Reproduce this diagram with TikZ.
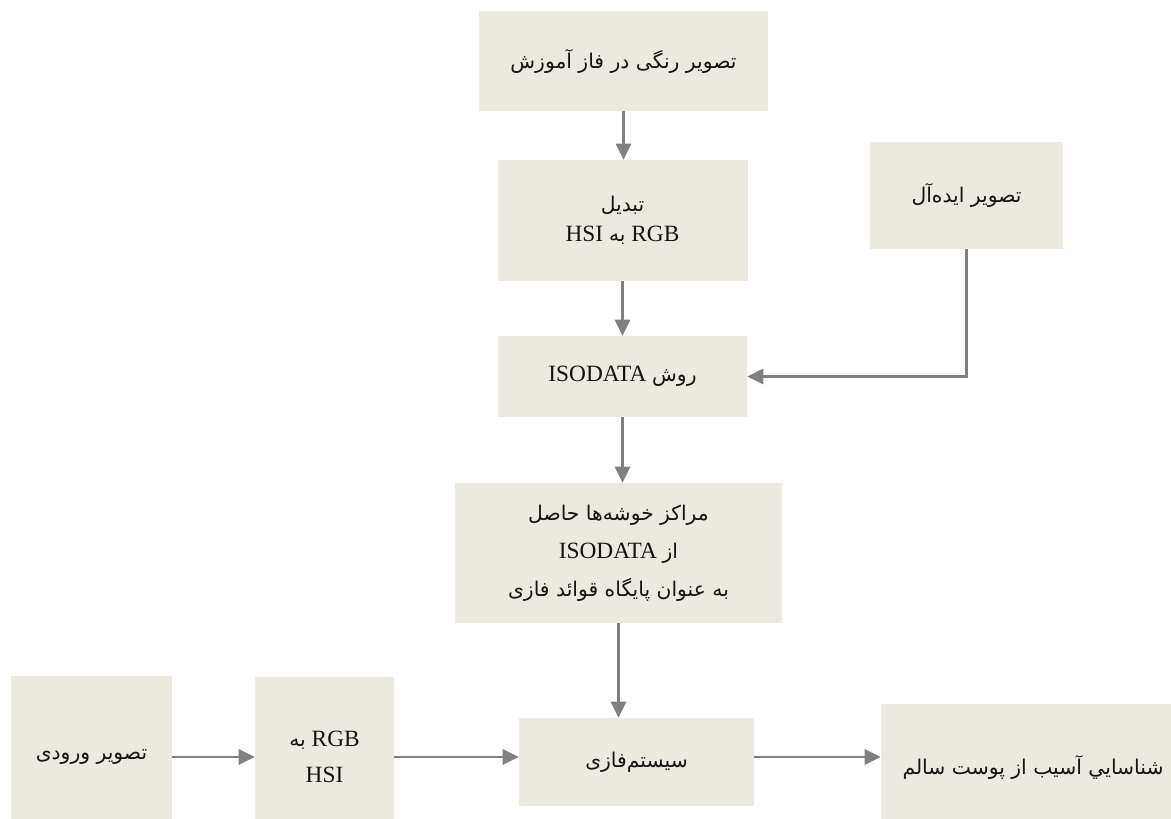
\documentclass[tikz,border=0pt]{standalone}
\usepackage{fontspec}
\setmainfont{Liberation Serif}
\newfontfamily\fa[Script=Arabic,Scale=0.87]{DejaVu Sans}
\TeXXeTstate=1
\usetikzlibrary{arrows.meta}
\definecolor{boxfill}{RGB}{236,234,224}
\definecolor{arrowgray}{RGB}{128,128,128}
\definecolor{txt}{RGB}{20,20,20}
\begin{document}
\begin{tikzpicture}[x=0.75pt,y=-0.75pt,
  box/.style={fill=boxfill, draw=none, inner sep=0pt, align=center, text=txt},
  sz/.style 2 args={minimum width=#1*0.75pt, minimum height=#2*0.75pt},
  conn/.style={draw=arrowgray, line width=1.7pt, -{Triangle[length=12pt,width=11.5pt]}}]
\useasboundingbox (0,0) rectangle (1171,818);
% nodes
\node[box, sz={289}{100}, font=\fontsize{17.5}{24}\selectfont] (b1) at (623.5,61)
  {\beginR{\fa تصویر رنگی در فاز آموزش}\endR};
\node[box, sz={250}{121}, font=\fontsize{17.5}{22.5}\selectfont] (b2) at (622.5,220.5)
  {\beginR{\fa تبدیل}\endR\\ \beginR RGB {\fa به} HSI\endR};
\node[box, sz={193}{107}, font=\fontsize{17.5}{24}\selectfont] (b3) at (966.5,195.5)
  {\beginR{\fa تصویر ایده‌آل}\endR};
\node[box, sz={249}{81}, font=\fontsize{17.5}{24}\selectfont] (b4) at (622.5,376.5)
  {\beginR{\fa روش} ISODATA\endR};
\node[box, sz={327}{140}, font=\fontsize{17.5}{28.5}\selectfont] (b5) at (618.5,553)
  {\beginR{\fa مراکز خوشه‌ها حاصل}\endR\\
   \beginR{\fa از} ISODATA\endR\\
   \beginR{\fa به عنوان پایگاه قوائد فازی}\endR};
\node[box, sz={161}{162}, font=\fontsize{17.5}{24}\selectfont] (b6) at (91.5,757)
  {\beginR{\fa تصویر ورودی}\endR};
\node[box, sz={139}{160}, font=\fontsize{17.5}{27}\selectfont] (b7) at (324.5,757)
  {\beginR RGB {\fa به}\endR\\ HSI};
\node[box, sz={235}{88}, font=\fontsize{17.5}{24}\selectfont] (b8) at (636.5,762)
  {\beginR{\fa سیستم‌فازی}\endR};
\node[box, sz={304}{126}, font=\fontsize{17.5}{24}\selectfont] (b9) at (1033,767)
  {\beginR{\fa شناسايي آسیب از پوست سالم}\endR};
% connectors
\draw[conn] (b1.south) -- (b1.south |- b2.north);
\draw[conn] (b2.south) -- (b2.south |- b4.north);
\draw[conn] (b3.south) |- (b4.east);
\draw[conn] (b4.south) -- (b4.south |- b5.north);
\draw[conn] (b5.south) -- (b5.south |- b8.north);
\draw[conn] (b6.east) -- (b7.west);
\draw[conn] (b7.east) -- (b7.east -| b8.west);
\draw[conn] (b7.east -| b8.east) -- (b7.east -| b9.west);
\end{tikzpicture}
\end{document}
